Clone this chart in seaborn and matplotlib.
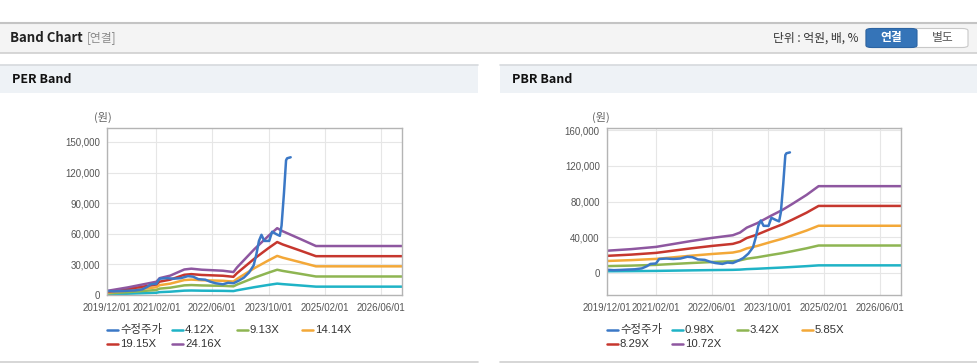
import matplotlib
matplotlib.use("Agg")
import matplotlib.pyplot as plt
import matplotlib.dates as mdates
import pandas as pd
import seaborn as sns
from matplotlib.lines import Line2D
from matplotlib.patches import Rectangle, FancyBboxPatch

# ---- data ----
price_dates = ['2019-12-01', '2020-02-01', '2020-04-01', '2020-06-01', '2020-08-01',
               '2020-10-01', '2020-11-15', '2020-12-15', '2021-02-01', '2021-03-01',
               '2021-05-01', '2021-07-01', '2021-09-01', '2021-11-01', '2021-12-15',
               '2022-02-01', '2022-04-01', '2022-05-15', '2022-07-01', '2022-09-01',
               '2022-10-15', '2022-12-01', '2023-01-15', '2023-03-01', '2023-04-15',
               '2023-05-25', '2023-06-18', '2023-07-10', '2023-08-01', '2023-08-25',
               '2023-10-07', '2023-11-01', '2023-12-10', '2024-01-07', '2024-01-22',
               '2024-02-12', '2024-03-01', '2024-03-10', '2024-04-10']
price = [4000, 3500, 3800, 4200, 4500, 5500, 8000, 10500, 11000, 16000,
         16500, 16000, 16500, 18500, 18000, 15500, 15000, 13000, 11500, 10500,
         12000, 11500, 14000, 17000, 22000, 29000, 40000, 53000, 59000, 53000,
         53000, 62000, 59500, 58000, 68000, 100000, 132000, 134000, 135000]

# earnings per share behind the PER band
eps_dates = ['2019-12-01', '2020-06-01', '2021-02-01', '2021-03-01', '2021-06-01',
             '2021-10-01', '2021-12-01', '2022-03-01', '2022-09-01', '2022-12-01',
             '2023-01-01', '2023-06-01', '2023-10-01', '2023-12-15', '2024-02-01',
             '2024-07-01', '2024-11-15', '2026-12-01']
eps = [166, 310, 538, 683, 786, 1035, 1068, 1026, 985, 931,
       1118, 1863, 2401, 2711, 2587, 2276, 1987, 1987]
per_multiples = [4.12, 9.13, 14.14, 19.15, 24.16]

# book value per share behind the PBR band
bps_dates = ['2019-12-01', '2020-07-01', '2021-02-01', '2021-12-01', '2022-06-01',
             '2022-12-01', '2023-02-01', '2023-04-01', '2023-07-01', '2023-11-01',
             '2024-02-01', '2024-05-01', '2024-09-01', '2024-12-15', '2026-12-01']
bps = [2351, 2519, 2752, 3358, 3685, 3965, 4244, 4757, 5224, 6017,
       6576, 7229, 8162, 9077, 9077]
pbr_multiples = [0.98, 3.42, 5.85, 8.29, 10.72]

x_ticks = ['2019/12/01', '2021/02/01', '2022/06/01', '2023/10/01', '2025/02/01', '2026/06/01']
price_label = '수정주가'

colors = ['#3b78c6', '#1fb3c6', '#8eb552', '#f3a838', '#c6372e', '#8e57a0']

W, H = 978, 364


def fx(x):
    return x / W


def fy(y):
    return 1 - y / H


def band_frame(dates, base, multiples):
    rows = []
    for m in multiples:
        lab = f'{m:.2f}X'
        for d, b in zip(dates, base):
            rows.append({'date': pd.Timestamp(d), 'value': b * m, 'series': lab})
    return pd.DataFrame(rows)


def draw_panel(ax, dates, base, multiples, ylim, yticks):
    bands = band_frame(dates, base, multiples)
    labels = [f'{m:.2f}X' for m in multiples]
    sns.lineplot(data=bands, x='date', y='value', hue='series', hue_order=labels,
                 palette=colors[1:], estimator=None, legend=False, lw=1.8, ax=ax)
    pr = pd.DataFrame({'date': pd.to_datetime(price_dates), 'value': price})
    sns.lineplot(data=pr, x='date', y='value', color=colors[0], lw=1.8,
                 estimator=None, ax=ax)
    ax.set_xlim(pd.Timestamp('2019-12-01'), pd.Timestamp('2026-12-01'))
    ax.set_ylim(*ylim)
    ax.set_xticks(pd.to_datetime(x_ticks, format='%Y/%m/%d'))
    ax.xaxis.set_major_formatter(mdates.DateFormatter('%Y/%m/%d'))
    ax.set_yticks(yticks)
    ax.set_yticklabels([f'{v:,}' for v in yticks])
    ax.set_xlabel('')
    ax.set_ylabel('')
    ax.grid(True, color='#e6e6e6', lw=0.8)
    ax.set_axisbelow(True)
    ax.set_facecolor('white')
    for s in ax.spines.values():
        s.set_color('#b4b4b4')
        s.set_linewidth(1.0)
    ax.tick_params(length=0, labelsize=7, labelcolor='#555555')
    ax.tick_params(axis='y', pad=5)
    ax.tick_params(axis='x', pad=6)
    return labels


def draw_legend(fig, x0, labels):
    entries = [price_label] + labels
    for i, lab in enumerate(entries):
        row, col = divmod(i, 4)
        tx = x0 + 13 + 65 * col
        ty = 330 + 14 * row
        fig.add_artist(Line2D([fx(tx - 13), fx(tx - 2)], [fy(ty), fy(ty)],
                              color=colors[i], lw=1.8, transform=fig.transFigure))
        fig.text(fx(tx), fy(ty), lab, fontsize=8.2, color='#333333',
                 va='center', ha='left')


def main():
    sns.set_theme(style='white')
    plt.rcParams['font.family'] = ['Liberation Sans', 'Noto Sans CJK KR', 'DejaVu Sans']

    fig = plt.figure(figsize=(W / 100, H / 100), dpi=100)
    fig.patch.set_facecolor('white')

    # page header bar
    fig.add_artist(Rectangle((0, fy(52.5)), 1, fy(23) - fy(52.5), transform=fig.transFigure,
                             facecolor='#f4f4f4', edgecolor='none'))
    fig.add_artist(Line2D([0, 1], [fy(22.5), fy(22.5)], color='#c4c4c4', lw=1.5,
                          transform=fig.transFigure))
    fig.add_artist(Line2D([0, 1], [fy(53), fy(53)], color='#cfcfcf', lw=1.2,
                          transform=fig.transFigure))
    fig.text(fx(10), fy(38), 'Band Chart', fontsize=9.5, fontweight='bold',
             color='#222222', va='center', family=['Noto Sans CJK KR'])
    fig.text(fx(87), fy(38), '[연결]', fontsize=8.5, color='#8a8a8a', va='center',
             family=['Noto Sans CJK KR'])
    fig.text(fx(859), fy(38), '단위 : 억원, 배, %', fontsize=8.5, color='#333333',
             va='center', ha='right', family=['Noto Sans CJK KR', 'DejaVu Sans'])
    fig.add_artist(FancyBboxPatch((fx(866), fy(47.5)), fx(968) - fx(866), fy(28.5) - fy(47.5),
                                  boxstyle='round,pad=0,rounding_size=0.006',
                                  transform=fig.transFigure, facecolor='white',
                                  edgecolor='#c8c8c8', lw=0.8))
    fig.add_artist(FancyBboxPatch((fx(866), fy(47.5)), fx(917) - fx(866), fy(28.5) - fy(47.5),
                                  boxstyle='round,pad=0,rounding_size=0.006',
                                  transform=fig.transFigure, facecolor='#3574b8',
                                  edgecolor='#2c64a3', lw=0.8))
    fig.text(fx(891.5), fy(38), '연결', fontsize=8.5, fontweight='bold', color='white',
             va='center', ha='center', family=['Noto Sans CJK KR'])
    fig.text(fx(942.5), fy(38), '별도', fontsize=8.5, color='#555555',
             va='center', ha='center', family=['Noto Sans CJK KR'])

    # panel headers
    for x0, x1, title in [(0, 478, 'PER Band'), (500, 978, 'PBR Band')]:
        fig.add_artist(Rectangle((fx(x0), fy(92.5)), fx(x1) - fx(x0), fy(64.5) - fy(92.5),
                                 transform=fig.transFigure, facecolor='#eef2f6',
                                 edgecolor='none'))
        fig.add_artist(Line2D([fx(x0), fx(x1)], [fy(64.5), fy(64.5)], color='#d6d9dd',
                              lw=1.2, transform=fig.transFigure))
        fig.add_artist(Line2D([fx(x0), fx(x1)], [fy(362), fy(362)], color='#d0d0d0',
                              lw=1.2, transform=fig.transFigure))
        fig.text(fx(x0 + 12), fy(79.5), title, fontsize=9, fontweight='bold',
                 color='#111111', va='center', family=['Noto Sans CJK KR'])

    # PER chart
    ax1 = fig.add_axes([fx(107), fy(295), fx(402) - fx(107), fy(128.3) - fy(295)])
    labs1 = draw_panel(ax1, eps_dates, eps, per_multiples, (0, 163400),
                       [0, 30000, 60000, 90000, 120000, 150000])
    fig.text(fx(102.5), fy(117), '(원)', fontsize=8, color='#666666', ha='center',
             va='center', family=['Noto Sans CJK KR'])
    draw_legend(fig, 107, labs1)

    # PBR chart
    ax2 = fig.add_axes([fx(606.7), fy(295), fx(901) - fx(606.7), fy(128.3) - fy(295)])
    labs2 = draw_panel(ax2, bps_dates, bps, pbr_multiples, (-24200, 161900),
                       [0, 40000, 80000, 120000, 160000])
    fig.text(fx(601), fy(117.5), '(원)', fontsize=8, color='#666666', ha='center',
             va='center', family=['Noto Sans CJK KR'])
    draw_legend(fig, 607, labs2)

    fig.savefig('out.png', dpi=100)
    plt.close(fig)


if __name__ == '__main__':
    main()
